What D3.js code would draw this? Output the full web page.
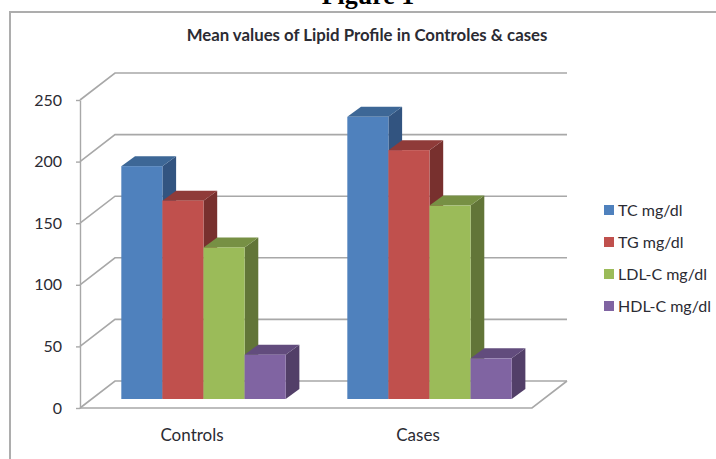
<!DOCTYPE html>
<html>
<head>
<meta charset="utf-8">
<script src="https://cdn.jsdelivr.net/npm/d3@7"></script>
<style>
    body { margin: 0; background: #fff; overflow: hidden; }
    svg { display: block; }
    text { font-family: Lato, sans-serif; fill: #2b2b33; }
</style>
</head>
<body>
<div id="chart"></div>
<script>
const categories = ["Controls", "Cases"];
const seriesNames = ["TC mg/dl", "TG mg/dl", "LDL-C mg/dl", "HDL-C mg/dl"];
const tcValues = [189, 229];
const tgValues = [161, 202];
const ldlValues = [123, 157];
const hdlValues = [36, 33];
const yTicks = [0, 50, 100, 150, 200, 250];

const seriesValues = [tcValues, tgValues, ldlValues, hdlValues];
const frontColors = ["#4f81bd", "#c0504d", "#9bbb59", "#8064a2"];
const topColors = ["#3d6796", "#8f3b39", "#779044", "#624c7d"];
const sideColors = ["#325480", "#78302e", "#627538", "#523f68"];

const width = 716, height = 459;
const plot = { left: 80, right: 532, top: 100, bottom: 408 };
// how far the back wall sits from the front of the floor
const wall = { dx: 35, dy: -27 };
// bars stand in the middle of the floor and have their own depth
const seat = { dx: 10.5, dy: -9 };
const depth = { dx: 13.7, dy: -10 };

const svg = d3.select("#chart")
    .append("svg")
    .attr("width", width)
    .attr("height", height);

/* Scales */
const x = d3.scaleBand()
    .domain(categories)
    .range([plot.left, plot.right]);

const xInner = d3.scaleBand()
    .domain(seriesNames)
    .range([0, x.bandwidth()])
    .paddingInner(0)
    .paddingOuter(0.75);

const y = d3.scaleLinear()
    .domain([0, 250])
    .range([plot.bottom, plot.top]);

/* Page frame and heading */
svg.append("rect")
    .attr("x", 10)
    .attr("y", 12)
    .attr("width", width + 20)
    .attr("height", height + 20)
    .attr("fill", "#fff")
    .attr("stroke", "#adadad")
    .attr("stroke-width", 2);

svg.append("text")
    .attr("x", 368)
    .attr("y", 4)
    .attr("text-anchor", "middle")
    .style("font-family", "'Liberation Serif', serif")
    .style("font-weight", "bold")
    .style("font-size", "26px")
    .style("fill", "#000")
    .text("Figure 1");

svg.append("text")
    .attr("x", 367)
    .attr("y", 41)
    .attr("text-anchor", "middle")
    .style("font-weight", "bold")
    .style("font-size", "16.8px")
    .text("Mean values of Lipid Profile in Controles & cases");

/* Walls and floor */
const grid = svg.append("g")
    .attr("fill", "none")
    .attr("stroke", "#a8a8a8")
    .attr("stroke-width", 1.6);

yTicks.forEach(t => {
    const backY = y(t) + wall.dy;
    grid.append("path")
        .attr("d", d3.line()([
            [plot.left, y(t)],
            [plot.left + wall.dx, backY],
            [plot.right + wall.dx, backY]
        ]));
});

grid.append("path")
    .attr("d", d3.line()([
        [plot.left, y(0)],
        [plot.right, y(0)],
        [plot.right + wall.dx, y(0) + wall.dy]
    ]));

/* Y-axis */
const yAxis = svg.append("g")
    .attr("transform", `translate(${plot.left}, 0)`)
    .call(d3.axisLeft(y).tickValues(yTicks).tickSize(4).tickSizeOuter(0).tickPadding(14));
yAxis.selectAll("path, line").attr("stroke", "#a8a8a8").attr("stroke-width", 1.4);
yAxis.selectAll("text").style("font-size", "16px").style("font-family", "Lato, sans-serif");

/* X-axis */
const xAxis = svg.append("g")
    .attr("transform", `translate(-1, ${plot.bottom})`)
    .call(d3.axisBottom(x).tickSize(0).tickPadding(21));
xAxis.select(".domain").remove();
xAxis.selectAll("text").style("font-size", "17px").style("font-family", "Lato, sans-serif");

/* Bars, drawn left to right so that the side of one is covered by the next */
const bars = categories.flatMap((cat, c) =>
    seriesNames.map((name, s) => ({ cat, name, s, value: seriesValues[s][c] })));

const face = svg.selectAll("g.bar")
    .data(bars)
    .enter()
    .append("g")
    .attr("class", "bar")
    .attr("transform", `translate(${seat.dx}, ${seat.dy})`);

const x0 = d => x(d.cat) + xInner(d.name);
const x1 = d => x0(d) + xInner.bandwidth();

face.append("polygon")
    .attr("points", d => [
        [x1(d), y(d.value)],
        [x1(d) + depth.dx, y(d.value) + depth.dy],
        [x1(d) + depth.dx, y(0) + depth.dy],
        [x1(d), y(0)]
    ].join(" "))
    .attr("fill", d => sideColors[d.s]);

face.append("polygon")
    .attr("points", d => [
        [x0(d), y(d.value)],
        [x0(d) + depth.dx, y(d.value) + depth.dy],
        [x1(d) + depth.dx, y(d.value) + depth.dy],
        [x1(d), y(d.value)]
    ].join(" "))
    .attr("fill", d => topColors[d.s]);

face.append("rect")
    .attr("x", x0)
    .attr("y", d => y(d.value))
    .attr("width", xInner.bandwidth())
    .attr("height", d => y(0) - y(d.value))
    .attr("fill", d => frontColors[d.s]);

/* Legend */
const legendY = d3.scalePoint()
    .domain(seriesNames)
    .range([210, 306]);

const legend = svg.selectAll("g.legend")
    .data(seriesNames)
    .enter()
    .append("g")
    .attr("class", "legend")
    .attr("transform", d => `translate(604, ${legendY(d)})`);

legend.append("rect")
    .attr("y", -5)
    .attr("width", 10)
    .attr("height", 10)
    .attr("fill", (d, i) => frontColors[i]);

legend.append("text")
    .attr("x", 14)
    .attr("dy", "0.35em")
    .style("font-size", "16px")
    .text(d => d);
</script>
</body>
</html>
